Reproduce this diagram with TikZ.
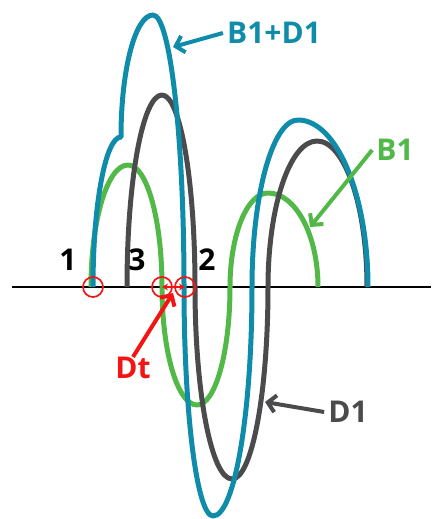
\documentclass[tikz,border=0pt]{standalone}
\usepackage{fontspec}
\setmainfont{Open Sans}
\usetikzlibrary{arrows.meta}
\definecolor{sumblue}{RGB}{14,140,170}
\definecolor{bgreen}{RGB}{82,184,72}
\definecolor{dgray}{RGB}{75,75,77}
\definecolor{mred}{RGB}{245,20,20}
\begin{document}
\begin{tikzpicture}[x=1pt, y=1pt, line join=round, >={Straight Barb[length=8pt, width=17pt]},
	wave/.style={line width=5pt},
	lbl/.style={font=\fontsize{30}{31}\selectfont\bfseries, inner sep=4pt},
	pointer/.style={->, line width=4pt},
	ring/.style={draw=mred, line width=1.7pt, circle, minimum size=20pt, inner sep=0pt}]
	\useasboundingbox (0, -232) rectangle (433, 287);
	% axis
	\coordinate (axL) at (12, 0);
	\coordinate (axR) at (431, 0);
	\draw[line width=2pt] (axL) -- (axR);
	% B1
	\draw[wave, bgreen] (91, 0) arc[start angle=180, end angle=90, x radius=37, y radius=122]
		arc[start angle=90, end angle=0, x radius=34, y radius=122]
		arc[start angle=180, end angle=270, x radius=35, y radius=118]
		arc[start angle=270, end angle=360, x radius=33, y radius=118]
		arc[start angle=180, end angle=90, x radius=38, y radius=94]
		arc[start angle=90, end angle=0, x radius=50, y radius=94];
	% D1
	\draw[wave, dgray] (127, 0) arc[start angle=180, end angle=90, x radius=35, y radius=192]
		arc[start angle=90, end angle=0, x radius=33, y radius=192]
		arc[start angle=180, end angle=270, x radius=37, y radius=192]
		arc[start angle=270, end angle=360, x radius=36, y radius=192]
		arc[start angle=180, end angle=90, x radius=49, y radius=146]
		arc[start angle=90, end angle=0, x radius=50, y radius=146];
	% B1+D1
	\draw[wave, sumblue] (93, 0) arc[start angle=180, end angle=90, x radius=28, y radius=150]
		arc[start angle=180, end angle=90, x radius=32, y radius=122]
		arc[start angle=90, end angle=0, x radius=31, y radius=272]
		arc[start angle=180, end angle=270, x radius=29, y radius=229]
		arc[start angle=270, end angle=360, x radius=39, y radius=229]
		arc[start angle=180, end angle=90, x radius=46, y radius=167]
		arc[start angle=90, end angle=0, x radius=70, y radius=167];
	% crossings
	\foreach \x/\n in {93/c1, 162/c3, 185/c2} \node[ring] (\n) at (\x, 0) {};
	\draw[mred, line width=2pt, {Stealth[length=6pt, width=7pt]}-{Stealth[length=6pt, width=7pt]}] (c3.center) -- (c2.center);
	\foreach \x/\l in {68/1, 137/3, 207/2} \node[lbl] (n\l) at (\x, 27) {\l};
	% labels and pointers
	\node[lbl, sumblue] (lblBD) at (274, 254) {B1+D1};
	\node[lbl, bgreen] (lblB) at (395, 137) {B1};
	\node[lbl, dgray] (lblD) at (348, -125) {D1};
	\node[lbl, mred] (lblDt) at (133, -81) {Dt};
	\coordinate (tipBD) at (173, 240);
	\coordinate (tipB) at (310, 60);
	\coordinate (tipD) at (265, -115);
	\coordinate (tipDt) at (173, -6);
	\draw[pointer, sumblue] (lblBD.west) -- (tipBD);
	\draw[pointer, bgreen] (lblB.west) -- (tipB);
	\draw[pointer, dgray] (lblD.west) -- (tipD);
	\draw[pointer, mred] (lblDt.north) ++(0, -4) -- (tipDt);
\end{tikzpicture}
\end{document}
